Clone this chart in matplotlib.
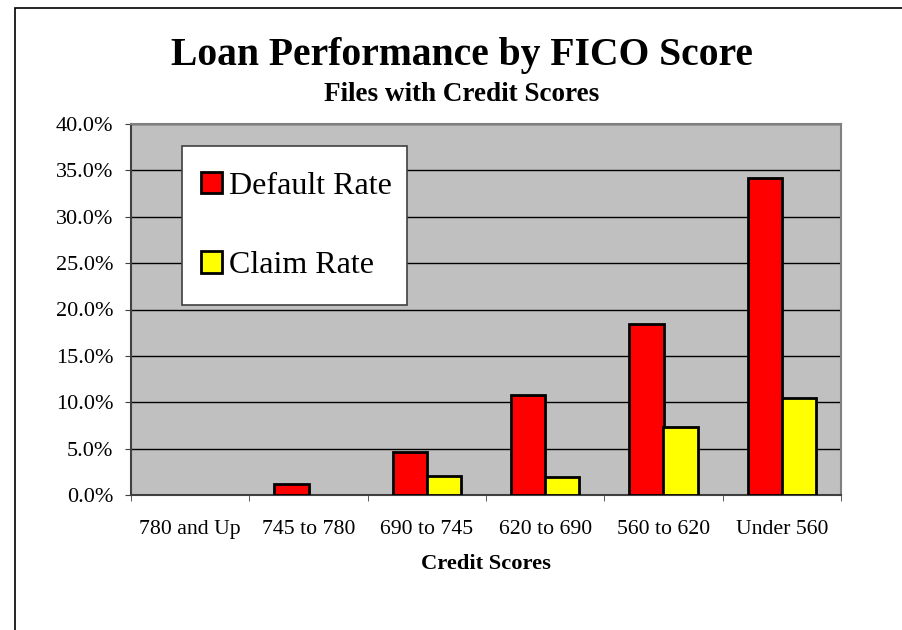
import numpy as np
import matplotlib
matplotlib.use("Agg")
import matplotlib.pyplot as plt
from matplotlib.patches import Rectangle, Patch
from matplotlib.ticker import FuncFormatter, FixedLocator

categories = ["780 and Up", "745 to 780", "690 to 745", "620 to 690", "560 to 620", "Under 560"]
default_rate = [0.0, 1.2, 4.6, 10.8, 18.4, 34.2]
claim_rate = [0.0, 0.0, 2.1, 1.9, 7.3, 10.5]

plt.rcParams["font.family"] = ["Liberation Serif", "DejaVu Serif"]

fig = plt.figure(figsize=(9.02, 6.3), dpi=100)

# outer chart border (runs off the right and bottom edges)
fig.patches.append(Rectangle((15 / 902, -0.1), 1.2, 1 - 8 / 630 + 0.1, transform=fig.transFigure,
                             fill=False, edgecolor="black", linewidth=1.2))

ax = fig.add_axes([131 / 902, 1 - 495 / 630, 710 / 902, 371 / 630])
ax.set_facecolor("#C0C0C0")

x = np.arange(len(categories))
w = 0.29
# no outline for empty bars
lw_d = [2 if v > 0 else 0 for v in default_rate]
lw_c = [2 if v > 0 else 0 for v in claim_rate]
ax.bar(x - w / 2, default_rate, w, color="#FF0000", edgecolor="black", linewidth=lw_d, zorder=3)
ax.bar(x + w / 2, claim_rate, w, color="#FFFF00", edgecolor="black", linewidth=lw_c, zorder=3)

ax.set_xlim(-0.5, len(categories) - 0.5)
ax.set_ylim(0, 40)
ax.set_yticks(np.arange(0, 41, 5))
ax.yaxis.set_major_formatter(FuncFormatter(lambda v, p: f"{v:.1f}%"))
ax.yaxis.grid(True, color="black", linewidth=1)
ax.set_axisbelow(True)

ax.set_xticks(x)
ax.set_xticklabels(categories)
ax.xaxis.set_minor_locator(FixedLocator(np.arange(-0.5, len(categories), 1)))
ax.tick_params(axis="x", which="major", length=0, labelsize=15.7, pad=18)
ax.tick_params(axis="x", which="minor", length=4.3, direction="out", color="#404040")
ax.tick_params(axis="y", which="major", length=4.3, direction="out", labelsize=16, pad=8.5,
               color="#404040")

for s in ["top", "right"]:
    ax.spines[s].set_color("#808080")
    ax.spines[s].set_linewidth(1.5)
for s in ["left", "bottom"]:
    ax.spines[s].set_color("#404040")
    ax.spines[s].set_linewidth(1.5)

ax.set_xlabel("Credit Scores", fontsize=16.2, fontweight="bold", labelpad=10.5)

fig.text(0.5116, 1 - 65 / 630, "Loan Performance by FICO Score", ha="center", va="baseline",
         fontsize=28.5, fontweight="bold")
fig.text(0.5116, 1 - 101 / 630, "Files with Credit Scores", ha="center", va="baseline",
         fontsize=19.5, fontweight="bold")

# legend box drawn by hand, entries from a frameless legend
fig.patches.append(Rectangle((182 / 902, 1 - 305 / 630), 225 / 902, 159 / 630,
                             transform=fig.transFigure, facecolor="white",
                             edgecolor="#404040", linewidth=1.2, zorder=4))
handles = [Patch(facecolor="#FF0000", edgecolor="black", linewidth=2),
           Patch(facecolor="#FFFF00", edgecolor="black", linewidth=2)]
leg = fig.legend(handles, ["Default Rate", "Claim Rate"], loc="center",
                 bbox_to_anchor=(296.7 / 902, 1 - 226 / 630), fontsize=23, frameon=False,
                 labelspacing=1.58, handlelength=0.66, handleheight=0.66,
                 handletextpad=0.23, borderpad=0, borderaxespad=0)
leg.set_zorder(5)

fig.savefig("out.png", dpi=100)
